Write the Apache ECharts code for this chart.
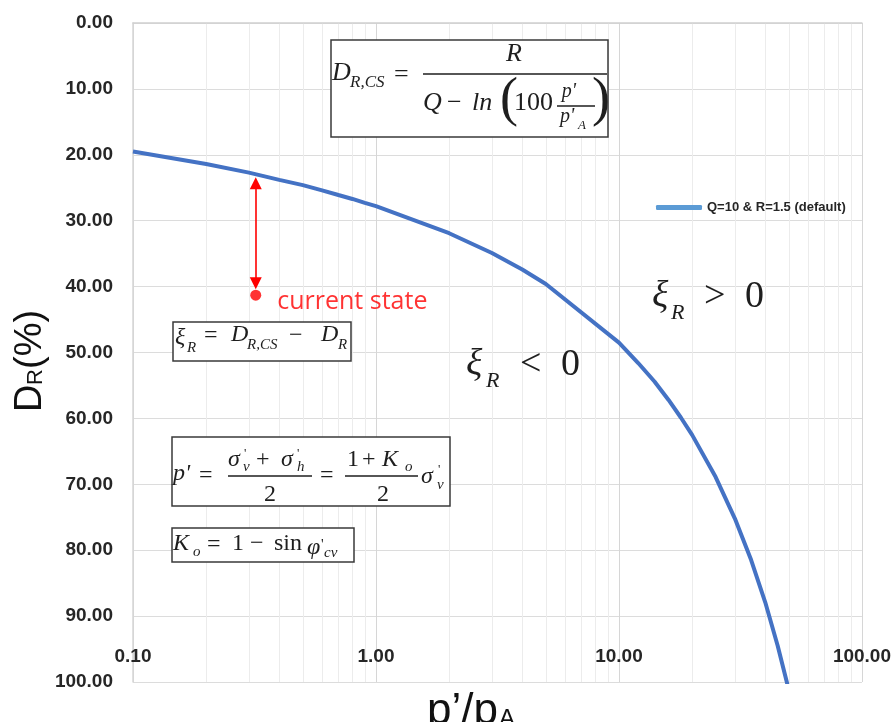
<!DOCTYPE html>
<html>
<head>
<meta charset="utf-8">
<script src="https://cdn.jsdelivr.net/npm/echarts@6/dist/echarts.min.js"></script>
<style>
  html, body { margin: 0; padding: 0; background: #ffffff; }
  #chart { width: 894px; height: 722px; }
</style>
</head>
<body>
<div id="chart"></div>
<script>
// Critical-state relative density line, Q = 10, R = 1.5
const pRatio = [0.1, 0.2, 0.3, 0.4, 0.5, 0.6, 0.7, 0.8, 0.9, 1, 2, 3, 4, 5, 10,
                12, 14, 16, 18, 20, 25, 30, 35, 40, 45, 50];
const drCs = [19.5, 21.4, 22.7, 23.8, 24.6, 25.4, 26.1, 26.7, 27.3, 27.8, 31.9, 34.9, 37.4, 39.6, 48.5,
              51.6, 54.4, 57.2, 59.9, 62.5, 68.9, 75.2, 81.5, 87.9, 94.5, 101.2];
const seriesName = 'Q=10 & R=1.5 (default)';

// Current state point and the gap arrow to the critical-state line
const currentState = [0.32, 41.3];
const gapArrow = { p: 0.32, from: 24.3, to: 39.5 };

// Minor log gridlines between decades
const minorTicks = [0.2, 0.3, 0.4, 0.5, 0.6, 0.7, 0.8, 0.9,
                    2, 3, 4, 5, 6, 7, 8, 9,
                    20, 30, 40, 50, 60, 70, 80, 90];

const SERIF = '"Liberation Serif", "DejaVu Serif", serif';
const SANS = '"Liberation Sans", Arial, sans-serif';
const INK = '#1e1e1e';

// text placed by its baseline
function tx(x, base, s, size, italic, extra) {
  const st = Object.assign({
    text: s, fontFamily: SERIF, fontSize: size,
    fontStyle: italic ? 'italic' : 'normal', fill: INK,
    align: 'left', verticalAlign: 'middle'
  }, extra || {});
  return { type: 'text', x: x, y: base - 0.33 * size, z: 10, style: st };
}
function bar(x1, x2, y) {
  return { type: 'line', z: 10, shape: { x1: x1, y1: y, x2: x2, y2: y },
           style: { stroke: INK, lineWidth: 1.3 } };
}
function box(x, y, w, h) {
  return { type: 'rect', z: 9, shape: { x: x, y: y, width: w, height: h },
           style: { fill: '#ffffff', stroke: '#3a3a3a', lineWidth: 1.5 } };
}

const formulas = [
  // D_R,CS = R / (Q - ln(100 p'/p'_A))
  box(331, 40, 277, 97),
  tx(332, 82, 'D', 26, true),
  tx(350, 88, 'R,CS', 17, true),
  tx(394, 84, '=', 26, false),
  bar(423, 607, 74),
  tx(514, 63, 'R', 26, true, { align: 'center' }),
  tx(423, 112, 'Q', 26, true),
  tx(447, 112, '\u2212', 26, false),
  tx(472, 112, 'ln', 26, true),
  tx(500, 119, '(', 54, false),
  tx(514, 112, '100', 26, false),
  tx(569, 98, "p'", 20, true, { align: 'center' }),
  bar(557, 595, 106),
  tx(560, 123, "p'", 20, true),
  tx(578, 130, 'A', 13, true),
  tx(592, 119, ')', 54, false),

  // xi_R = D_R,CS - D_R
  box(173, 322, 178, 39),
  tx(175, 346, '\u03BE', 24, true),
  tx(187, 353, 'R', 15, true),
  tx(204, 344, '=', 24, false),
  tx(231, 343, 'D', 24, true),
  tx(247, 350, 'R,CS', 15, true),
  tx(289, 344, '\u2212', 24, false),
  tx(321, 343, 'D', 24, true),
  tx(338, 350, 'R', 15, true),

  // p' = (sigma'_v + sigma'_h)/2 = (1 + K_o)/2 sigma'_v
  box(172, 437, 278, 69),
  tx(173, 482, "p'", 24, true),
  tx(199, 484, '=', 24, false),
  bar(228, 312, 476),
  tx(228, 468, '\u03C3', 24, true),
  tx(244, 458, "'", 13, false),
  tx(243, 472, 'v', 15, true),
  tx(256, 468, '+', 24, false),
  tx(281, 468, '\u03C3', 24, true),
  tx(297, 458, "'", 13, false),
  tx(297, 472, 'h', 15, true),
  tx(270, 503, '2', 24, false, { align: 'center' }),
  tx(320, 484, '=', 24, false),
  bar(345, 418, 476),
  tx(347, 468, '1', 24, false),
  tx(362, 468, '+', 24, false),
  tx(382, 468, 'K', 24, true),
  tx(405, 472, 'o', 15, true),
  tx(383, 503, '2', 24, false, { align: 'center' }),
  tx(421, 485, '\u03C3', 24, true),
  tx(438, 474, "'", 13, false),
  tx(437, 490, 'v', 15, true),

  // K_o = 1 - sin phi'_cv
  box(172, 528, 182, 34),
  tx(173, 552, 'K', 24, true),
  tx(193, 557, 'o', 15, true),
  tx(207, 553, '=', 24, false),
  tx(232, 552, '1', 24, false),
  tx(250, 552, '\u2212', 24, false),
  tx(274, 552, 'sin', 24, false),
  tx(307, 556, '\u03C6', 24, true),
  tx(321, 550, "'", 15, false),
  tx(324, 558, 'cv', 15, true),

  // regions either side of the critical-state line
  tx(466, 378, '\u03BE', 38, true),
  tx(486, 388, 'R', 22, true),
  tx(520, 378, '<', 38, false),
  tx(561, 378, '0', 38, false),
  tx(652, 310, '\u03BE', 38, true),
  tx(671, 320, 'R', 22, true),
  tx(704, 310, '>', 38, false),
  tx(745, 310, '0', 38, false)
];

// axis titles
const yTitle = {
  type: 'group', x: 43, y: 412, rotation: Math.PI / 2,
  children: [
    tx(0, 0, 'D', 38, false, { fontFamily: SANS, fill: '#111' }),
    tx(27, 0, 'R', 22, false, { fontFamily: SANS, fill: '#111' }),
    tx(43, 0, '(%)', 38, false, { fontFamily: SANS, fill: '#111' })
  ]
};
const xTitle = [
  tx(427, 726, 'p\u2019/p', 44, false, { fontFamily: SANS, fill: '#111' }),
  tx(499, 727, 'A', 24, false, { fontFamily: SANS, fill: '#111' })
];

const chart = echarts.init(document.getElementById('chart'), null, { renderer: 'canvas' });

chart.setOption({
  animation: false,
  backgroundColor: '#ffffff',
  grid: { left: 133, right: 32, top: 23, bottom: 40, containLabel: false },
  legend: {
    left: 651, top: 196,
    data: [{ name: seriesName, itemStyle: { color: '#5b9bd5' } }],
    icon: 'roundRect', itemWidth: 46, itemHeight: 5,
    textStyle: { fontFamily: SANS, fontWeight: 'bold', fontSize: 13, color: '#262626' },
    selectedMode: false
  },
  xAxis: {
    type: 'log', logBase: 10, min: 0.1, max: 100,
    axisLine: { show: true, lineStyle: { color: '#d0d0d0', width: 1.5 } },
    axisTick: { show: false },
    splitLine: { show: true, lineStyle: { color: '#d6d6d6', width: 1 } },
    axisLabel: {
      inside: true, margin: 16,
      fontFamily: SANS, fontWeight: 'bold', fontSize: 19, color: '#262626',
      formatter: v => Number(v).toFixed(2)
    }
  },
  yAxis: {
    type: 'value', inverse: true, min: 0, max: 100, interval: 10,
    axisLine: { show: true, lineStyle: { color: '#d6d6d6', width: 1.5 } },
    axisTick: { show: false },
    splitLine: { show: true, lineStyle: { color: '#dcdcdc', width: 1.2 } },
    axisLabel: {
      margin: 20,
      fontFamily: SANS, fontWeight: 'bold', fontSize: 19, color: '#262626',
      formatter: v => Number(v).toFixed(2)
    }
  },
  series: [
    {
      name: 'minor-grid', type: 'line', data: [], silent: true, z: 0,
      markLine: {
        silent: true, symbol: 'none', animation: false, z: 0,
        label: { show: false },
        lineStyle: { color: '#ececec', width: 1, type: 'solid' },
        emphasis: { disabled: true },
        data: minorTicks.map(v => ({ xAxis: v }))
      }
    },
    {
      name: seriesName, type: 'line', z: 3,
      data: pRatio.map((p, i) => [p, drCs[i]]),
      showSymbol: false, smooth: false, clip: true,
      color: '#4472c4',
      lineStyle: { color: '#4472c4', width: 4 }
    },
    {
      name: 'current state', type: 'scatter', z: 4,
      data: [currentState],
      symbolSize: 11,
      itemStyle: { color: '#ff0000' },
      label: {
        show: true, position: 'right', distance: 16, offset: [0, 7],
        formatter: 'current state',
        fontFamily: '"Open Sans", sans-serif', fontSize: 25, color: '#ff0000'
      },
      markLine: {
        silent: true, animation: false, z: 4,
        symbol: ['triangle', 'triangle'], symbolSize: 12,
        label: { show: false },
        lineStyle: { color: '#ff0000', width: 1.6, type: 'solid' },
        data: [[{ coord: [gapArrow.p, gapArrow.from] }, { coord: [gapArrow.p, gapArrow.to] }]]
      }
    }
  ],
  graphic: formulas.concat([yTitle]).concat(xTitle)
});
</script>
</body>
</html>
